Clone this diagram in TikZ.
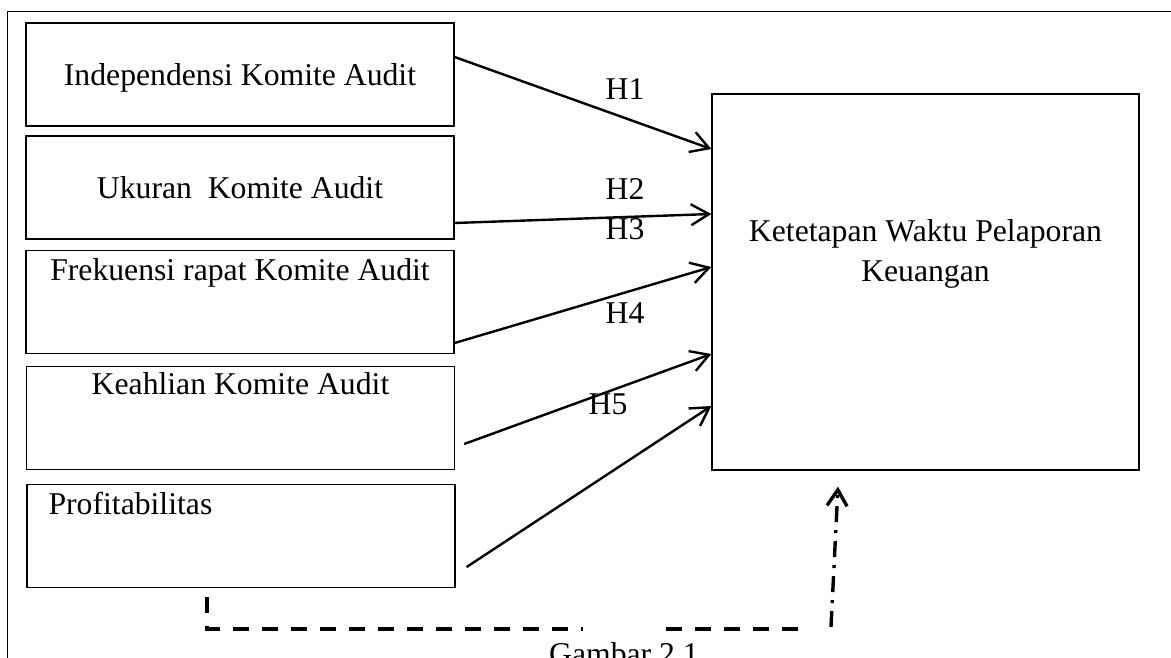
\documentclass[tikz,border=0pt]{standalone}
\usepackage{fontspec}
\setmainfont{Liberation Serif}
\usetikzlibrary{arrows.meta,calc}
\tikzset{
  var/.style={draw, line width=1.3pt, minimum width=428pt, minimum height=103pt, inner sep=0pt,
    text height=22pt, text depth=1pt, font=\fontsize{31.7}{40}\selectfont},
  txt/.style={inner sep=0pt, font=\fontsize{31.7}{40}\selectfont},
  hyp/.style={line width=2.4pt, -{Straight Barb[length=18pt,width=21pt]}},
  mod/.style={line width=3.6pt, dash pattern=on 16pt off 13pt},
}
\begin{document}
\begin{tikzpicture}[x=1pt,y=-1pt]
    \useasboundingbox (0,0) rectangle (1171,657);

    % Rahmen
    \draw[line width=1.6pt] (7.5,700) -- (7.5,11.5) -- (1200,11.5);

    % Variabel independen
    \node[var] (ind) at (240,74.5) {Independensi Komite Audit};
    \node[var] (uku) at (240,187.5) {Ukuran\ \ Komite Audit};
    \node[var] (fre) at (240,302) {};
    \node[var] (kea) at (240.5,418) {};
    \node[var] (pro) at (241,536) {};
    \node[txt, anchor=base] (fre-t) at ($(fre.north)+(0,31)$) {Frekuensi rapat Komite Audit};
    \node[txt, anchor=base] (kea-t) at ($(kea.north)+(0,29)$) {Keahlian Komite Audit};
    \node[txt, anchor=base west] (pro-t) at ($(pro.north west)+(22,31)$) {Profitabilitas};

    % Variabel dependen
    \node[var, minimum width=427pt, minimum height=376pt] (ket) at (925.5,282) {};
    \node[txt, anchor=north, align=center] (ket-t) at ($(ket.north)+(0,126)$) {Ketetapan Waktu Pelaporan\\Keuangan};

    % Hipotesis
    \draw[hyp] ($(ind.east)+(0,-17.5)$) -- ($(ket.west)+(0,-133)$);
    \draw[hyp] ($(uku.east)+(0,35.5)$) -- ($(ket.west)+(0,-68)$);
    \draw[hyp] ($(fre.east)+(0,41)$) -- ($(ket.west)+(0,-15)$);
    \draw[hyp] ($(kea.east)+(9,26)$) -- ($(ket.west)+(0,72)$);
    \draw[hyp] ($(pro.east)+(11,31)$) -- ($(ket.west)+(0,124)$);

    \node[txt, anchor=base] (h1) at (625,99) {H1};
    \node[txt, anchor=base] (h2) at (625,199) {H2};
    \node[txt, anchor=base] (h3) at (625,239) {H3};
    \node[txt, anchor=base] (h4) at (625,323) {H4};
    \node[txt, anchor=base] (h5) at (608,414) {H5};

    % Moderasi (gestrichelt)
    \coordinate (m1) at ($(pro.south)+(-34,9)$);
    \coordinate (m2) at ($(ket.south)+(-87.5,16)$);
    \draw[mod] (m1) -- ++(0,32) -- ++(376,0);
    \draw[mod] (666,629) -- (798,629);
    \draw[line width=3.4pt, dash pattern=on 16pt off 8pt on 3pt off 8pt,
      -{Straight Barb[length=16pt,width=20pt]}] (831,627) -- (m2);

    % Label
    \node[txt, anchor=base] (cap) at (624,664) {Gambar 2.1};
\end{tikzpicture}
\end{document}
